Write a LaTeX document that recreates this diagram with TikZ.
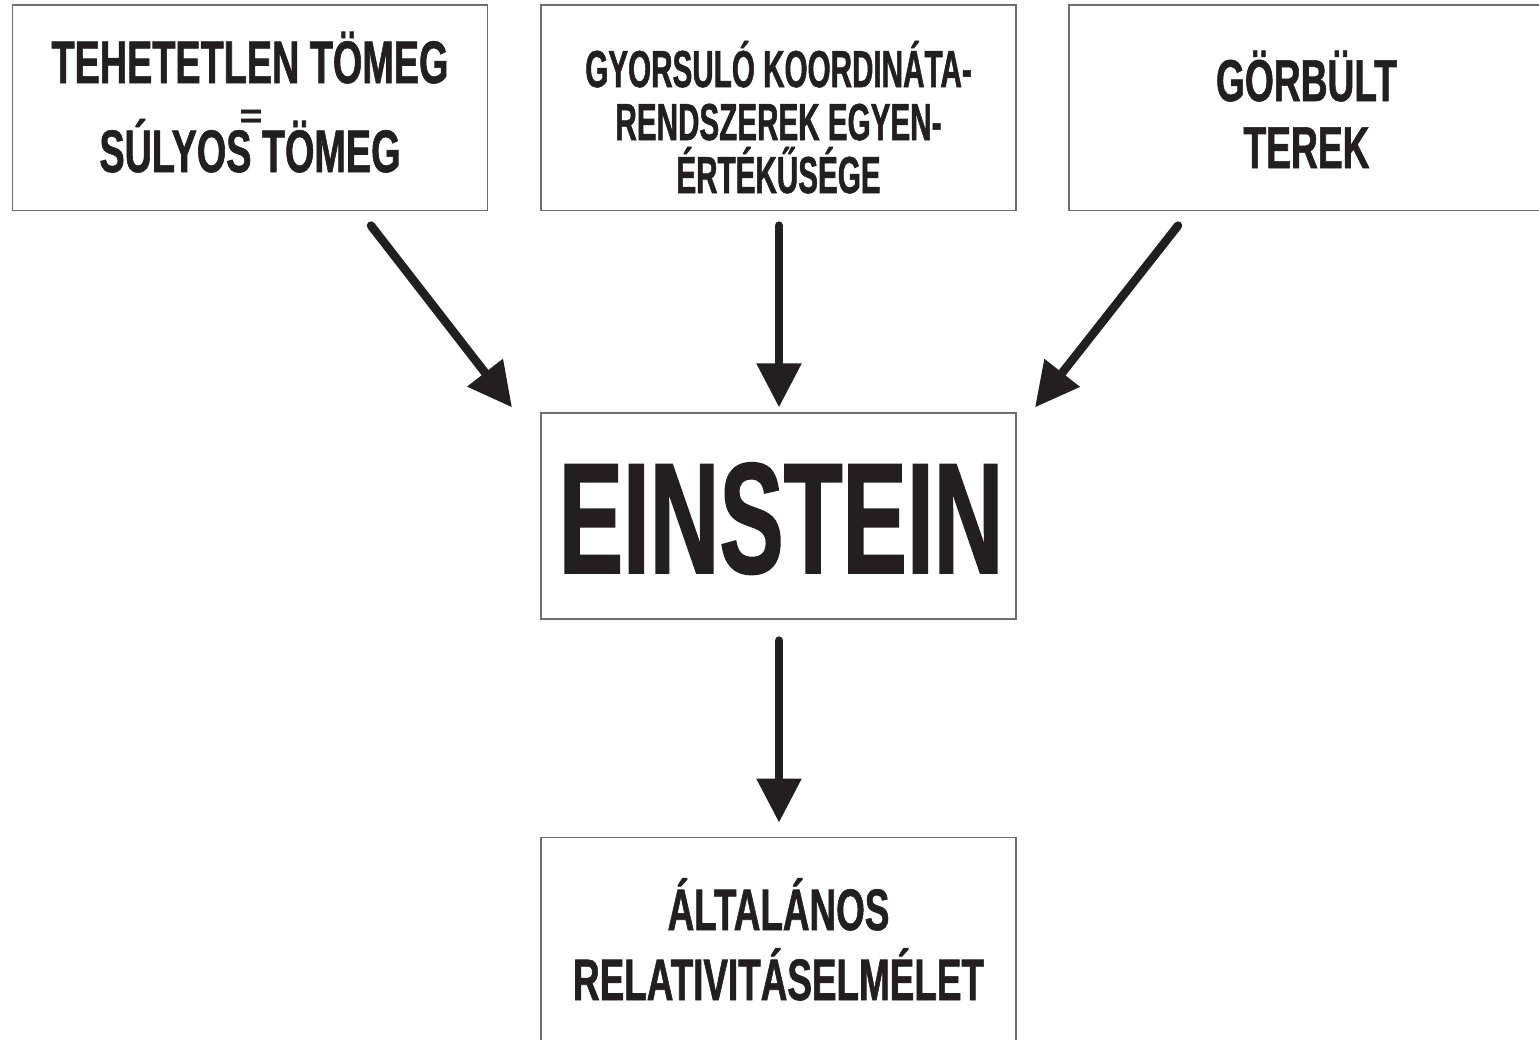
\documentclass[tikz,border=0pt]{standalone}
\usepackage{fontspec}
\usepackage{graphicx}
\usetikzlibrary{arrows.meta,calc}
\newfontfamily\fcondA{Liberation Sans Bold}[FakeStretch=0.63, FakeBold=1]
\newfontfamily\fcondB{Liberation Sans Bold}[FakeStretch=0.57, FakeBold=1]
\newfontfamily\fcondE{Liberation Sans Bold}[FakeStretch=0.61, FakeBold=1]
\definecolor{ink}{HTML}{231F20}
\definecolor{frame}{HTML}{6D6E71}
\begin{document}
\begin{tikzpicture}[x=1pt,y=-1pt,
  box/.style={draw=frame, line width=1.2pt, minimum width=475pt, minimum height=205.5pt, inner sep=0pt},
  txt/.style={text=ink, inner sep=0pt, anchor=base},
  fA/.style={font=\fcondA\fontsize{60}{60}\selectfont},
  fB/.style={font=\fcondB\fontsize{52}{52}\selectfont},
  fC/.style={font=\fcondA\fontsize{59}{59}\selectfont},
  fD/.style={font=\fcondA\fontsize{58.5}{58.5}\selectfont},
  fE/.style={font=\fcondE\fontsize{158}{158}\selectfont},
  arr/.style={draw=ink, line width=8.5pt, line cap=round, -{Triangle[length=44pt,width=43pt]}},
]
\useasboundingbox (0,0) rectangle (1539,1039);
\fill[white] (0,0) rectangle (1539,1039);

% boxes
\node[box] (b1) at (250,107.75) {};
\node[box] (b2) at (778.5,107.75) {};
\node[box] (b3) at (1306.5,107.75) {};
\node[box, minimum height=206pt] (ein) at (778.5,516) {};
\node[box] (bot) at (778.5,940) {};

% texts
\node[txt, fA] (t1a) at (250,83) {TEHETETLEN TÖMEG};
\node[txt, font=\fcondA\fontsize{60}{60}\selectfont] (t1eq) at (251,127) {\scalebox{1}[0.55]{=}};
\node[txt, fA] (t1b) at (250,172) {SÚLYOS TÖMEG};

\node[txt, fB] (t2a) at (778.5,87) {GYORSULÓ KOORDINÁTA-};
\node[txt, fB] (t2b) at (778.5,140) {RENDSZEREK EGYEN-};
\node[txt, fB] (t2c) at (778.5,193) {ÉRTÉKŰSÉGE};

\node[txt, fC] (t3a) at (1306.5,101) {GÖRBÜLT};
\node[txt, fC] (t3b) at (1306.5,168) {TEREK};

\node[txt, fE] (tein) at (781,573) {EINSTEIN};

\node[txt, fD] (t5a) at (778.5,930) {ÁLTALÁNOS};
\node[txt, fD] (t5b) at (778.5,1000) {RELATIVITÁSELMÉLET};

% arrows
\draw[arr] ([shift={(121pt,-14.5pt)}]b1.south) -- ([shift={(-266.5pt,5pt)}]ein.north);
\draw[arr] ([shift={(0.5pt,-14.5pt)}]b2.south) -- ([shift={(0.5pt,5pt)}]ein.north);
\draw[arr] ([shift={(-128.5pt,-14.5pt)}]b3.south) -- ([shift={(256.5pt,5pt)}]ein.north);
\draw[arr] ([shift={(0.5pt,-21pt)}]ein.south) -- ([shift={(0.5pt,14pt)}]bot.north);
\end{tikzpicture}
\end{document}
